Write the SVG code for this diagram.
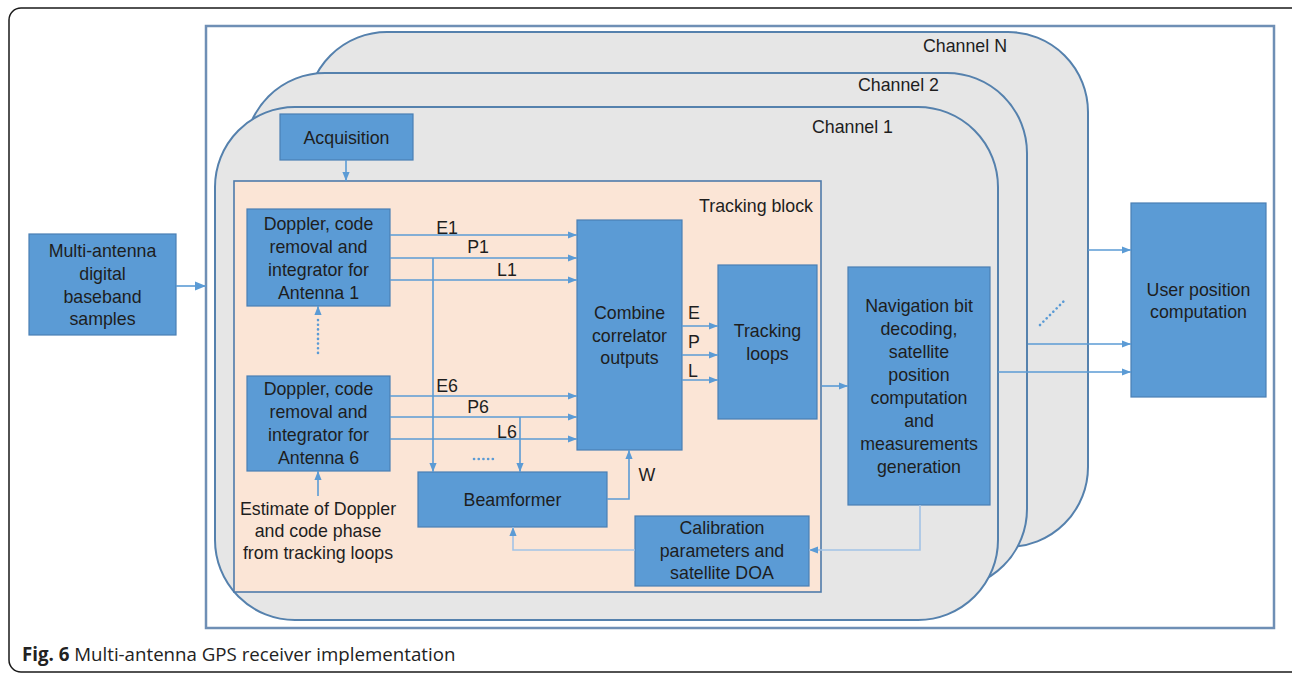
<svg xmlns="http://www.w3.org/2000/svg" width="1292" height="674" viewBox="0 0 1292 674">
  <style>
    .lbl { font-family: "Liberation Sans", Arial, sans-serif; font-size: 17.8px; fill: #1e1e1e; }
    .mid { text-anchor: middle; }
    .end { text-anchor: end; }
    .box { fill: #5b9bd5; stroke: #4a7fb4; stroke-width: 1.2; }
    .chan { fill: #e6e6e6; stroke: #5581ad; stroke-width: 2; }
    .wire { fill: none; stroke: #5b9bd5; stroke-width: 1.6; }
    .soft { fill: none; stroke: #a3c3e6; stroke-width: 1.6; }
    .dots { fill: none; stroke: #5b9bd5; stroke-width: 2.6; stroke-dasharray: 0.1 4.6; stroke-linecap: round; }
    .cap { font-family: "Open Sans", "Noto Sans", sans-serif; font-size: 18.7px; fill: #222; }
  </style>
  <defs>
    <marker id="arr" viewBox="0 0 10 10" refX="10" refY="5" markerUnits="userSpaceOnUse" markerWidth="9" markerHeight="9" orient="auto">
      <path d="M0,1 L10,5 L0,9 z" fill="#5b9bd5"/>
    </marker>
    <marker id="arrBig" viewBox="0 0 10 10" refX="10" refY="5" markerUnits="userSpaceOnUse" markerWidth="11" markerHeight="11" orient="auto">
      <path d="M0,1 L10,5 L0,9 z" fill="#5b9bd5"/>
    </marker>
  </defs>

  <!-- figure frame -->
  <rect x="9" y="8" width="1296" height="664" rx="12" fill="#ffffff" stroke="#1a1a1a" stroke-width="1.5"/>

  <!-- receiver boundary -->
  <rect x="206" y="26" width="1068" height="602" fill="#ffffff" stroke="#6f8fb5" stroke-width="2.5"/>

  <!-- stacked channels -->
  <g id="channelN">
    <rect class="chan" x="307" y="32" width="781" height="515" rx="80"/>
    <text class="lbl end" x="1007" y="52">Channel N</text>
  </g>
  <g id="channel2">
    <rect class="chan" x="245" y="73" width="782" height="516" rx="80"/>
    <text class="lbl end" x="939" y="91">Channel 2</text>
  </g>
  <g id="channel1">
    <rect class="chan" x="215" y="107" width="783" height="513" rx="80"/>
    <text class="lbl end" x="893" y="133">Channel 1</text>
  </g>

  <g id="tracking-block">
    <rect x="234" y="181" width="587" height="411" fill="#fbe5d6" stroke="#4f7bab" stroke-width="1.6"/>
    <text class="lbl end" x="813" y="212">Tracking block</text>
  </g>

  <g id="samples">
    <rect class="box" x="29" y="234" width="147" height="101"/>
    <text class="lbl mid"><tspan x="102.5" y="257">Multi-antenna</tspan><tspan x="102.5" y="280">digital</tspan><tspan x="102.5" y="303">baseband</tspan><tspan x="102.5" y="325">samples</tspan></text>
  </g>

  <g id="acquisition">
    <rect class="box" x="280" y="114" width="133" height="46"/>
    <text class="lbl mid" x="346.5" y="144">Acquisition</text>
  </g>

  <g id="antenna1">
    <rect class="box" x="247" y="209" width="143" height="97"/>
    <text class="lbl mid"><tspan x="318.5" y="230">Doppler, code</tspan><tspan x="318.5" y="253">removal and</tspan><tspan x="318.5" y="276">integrator for</tspan><tspan x="318.5" y="299">Antenna 1</tspan></text>
  </g>

  <g id="antenna6">
    <rect class="box" x="247" y="376" width="143" height="95"/>
    <text class="lbl mid"><tspan x="318.5" y="395">Doppler, code</tspan><tspan x="318.5" y="418">removal and</tspan><tspan x="318.5" y="441">integrator for</tspan><tspan x="318.5" y="464">Antenna 6</tspan></text>
  </g>

  <g id="estimate">
    <text class="lbl mid"><tspan x="318" y="515">Estimate of Doppler</tspan><tspan x="318" y="537">and code phase</tspan><tspan x="318" y="559">from tracking loops</tspan></text>
  </g>

  <g id="combine">
    <rect class="box" x="577" y="220" width="105" height="230"/>
    <text class="lbl mid"><tspan x="629.5" y="319">Combine</tspan><tspan x="629.5" y="342">correlator</tspan><tspan x="629.5" y="364">outputs</tspan></text>
  </g>

  <g id="tracking-loops">
    <rect class="box" x="718" y="265" width="99" height="154"/>
    <text class="lbl mid"><tspan x="767.5" y="337">Tracking</tspan><tspan x="767.5" y="360">loops</tspan></text>
  </g>

  <g id="beamformer">
    <rect class="box" x="418" y="472" width="189" height="55"/>
    <text class="lbl mid" x="512.5" y="506">Beamformer</text>
  </g>

  <g id="calibration">
    <rect class="box" x="635" y="516" width="174" height="70"/>
    <text class="lbl mid"><tspan x="722" y="534">Calibration</tspan><tspan x="722" y="557">parameters and</tspan><tspan x="722" y="579">satellite DOA</tspan></text>
  </g>

  <g id="navigation">
    <rect class="box" x="848" y="267" width="142" height="238"/>
    <text class="lbl mid"><tspan x="919" y="312">Navigation bit</tspan><tspan x="919" y="335">decoding,</tspan><tspan x="919" y="358">satellite</tspan><tspan x="919" y="381">position</tspan><tspan x="919" y="404">computation</tspan><tspan x="919" y="427">and</tspan><tspan x="919" y="450">measurements</tspan><tspan x="919" y="473">generation</tspan></text>
  </g>

  <g id="user-position">
    <rect class="box" x="1131" y="203" width="135" height="194"/>
    <text class="lbl mid"><tspan x="1198.5" y="296">User position</tspan><tspan x="1198.5" y="318">computation</tspan></text>
  </g>

  <g id="connectors">
    <!-- samples into receiver -->
    <line x1="176" y1="286" x2="206" y2="286" class="wire" stroke-width="3.5" marker-end="url(#arrBig)"/>
    <!-- acquisition to tracking -->
    <line x1="346" y1="160" x2="346" y2="181" class="wire" marker-end="url(#arr)"/>

    <!-- antenna 1 correlator outputs -->
    <line x1="390" y1="235" x2="577" y2="235" class="wire" marker-end="url(#arr)"/>
    <line x1="390" y1="258" x2="577" y2="258" class="wire" marker-end="url(#arr)"/>
    <line x1="390" y1="280" x2="577" y2="280" class="wire" marker-end="url(#arr)"/>
    <text class="lbl mid" x="447" y="234">E1</text>
    <text class="lbl mid" x="478" y="253">P1</text>
    <text class="lbl mid" x="507" y="276">L1</text>

    <!-- antenna 6 correlator outputs -->
    <line x1="390" y1="396" x2="577" y2="396" class="wire" marker-end="url(#arr)"/>
    <line x1="390" y1="417" x2="577" y2="417" class="wire" marker-end="url(#arr)"/>
    <line x1="390" y1="439" x2="577" y2="439" class="wire" marker-end="url(#arr)"/>
    <text class="lbl mid" x="447" y="392">E6</text>
    <text class="lbl mid" x="478" y="413">P6</text>
    <text class="lbl mid" x="507" y="438">L6</text>

    <!-- prompt taps into the beamformer -->
    <line x1="433" y1="258" x2="433" y2="472" class="wire" marker-end="url(#arr)"/>
    <line x1="520" y1="417" x2="520" y2="472" class="wire" marker-end="url(#arr)"/>
    <line x1="474" y1="459" x2="497" y2="459" class="dots"/>

    <!-- antennas in between -->
    <line x1="318" y1="353" x2="318" y2="316" class="dots"/>
    <line x1="318" y1="314" x2="318" y2="306" class="wire" marker-end="url(#arr)"/>
    <!-- loop estimates to antenna 6 -->
    <line x1="318" y1="496" x2="318" y2="471" class="wire" marker-end="url(#arr)"/>

    <!-- combiner to tracking loops -->
    <line x1="682" y1="326" x2="718" y2="326" class="wire" marker-end="url(#arr)"/>
    <line x1="682" y1="355" x2="718" y2="355" class="wire" marker-end="url(#arr)"/>
    <line x1="682" y1="380" x2="718" y2="380" class="wire" marker-end="url(#arr)"/>
    <text class="lbl mid" x="694" y="319">E</text>
    <text class="lbl mid" x="694" y="348">P</text>
    <text class="lbl mid" x="693" y="377">L</text>

    <!-- beamformer weights -->
    <polyline points="607,499 629,499 629,450" class="wire" stroke="#7eb0e0" stroke-width="3" marker-end="url(#arr)"/>
    <text class="lbl mid" x="647" y="481">W</text>

    <!-- tracking block to navigation -->
    <line x1="822" y1="386" x2="848" y2="386" class="wire" marker-end="url(#arr)"/>

    <!-- navigation to calibration, calibration to beamformer -->
    <polyline points="920,505 920,550 809,550" class="soft" marker-end="url(#arr)"/>
    <polyline points="635,550 513,550 513,527" class="soft" marker-end="url(#arr)"/>

    <!-- channel outputs to user position -->
    <line x1="1088" y1="250" x2="1131" y2="250" class="wire" marker-end="url(#arr)"/>
    <line x1="1028" y1="344" x2="1131" y2="344" class="wire" marker-end="url(#arr)"/>
    <line x1="998" y1="372" x2="1131" y2="372" class="wire" marker-end="url(#arr)"/>
    <line x1="1040" y1="325" x2="1064" y2="301" class="dots"/>
  </g>

  <!-- caption -->
  <text class="cap" x="22" y="661"><tspan font-weight="bold">Fig. 6</tspan> Multi-antenna GPS receiver implementation</text>
</svg>
